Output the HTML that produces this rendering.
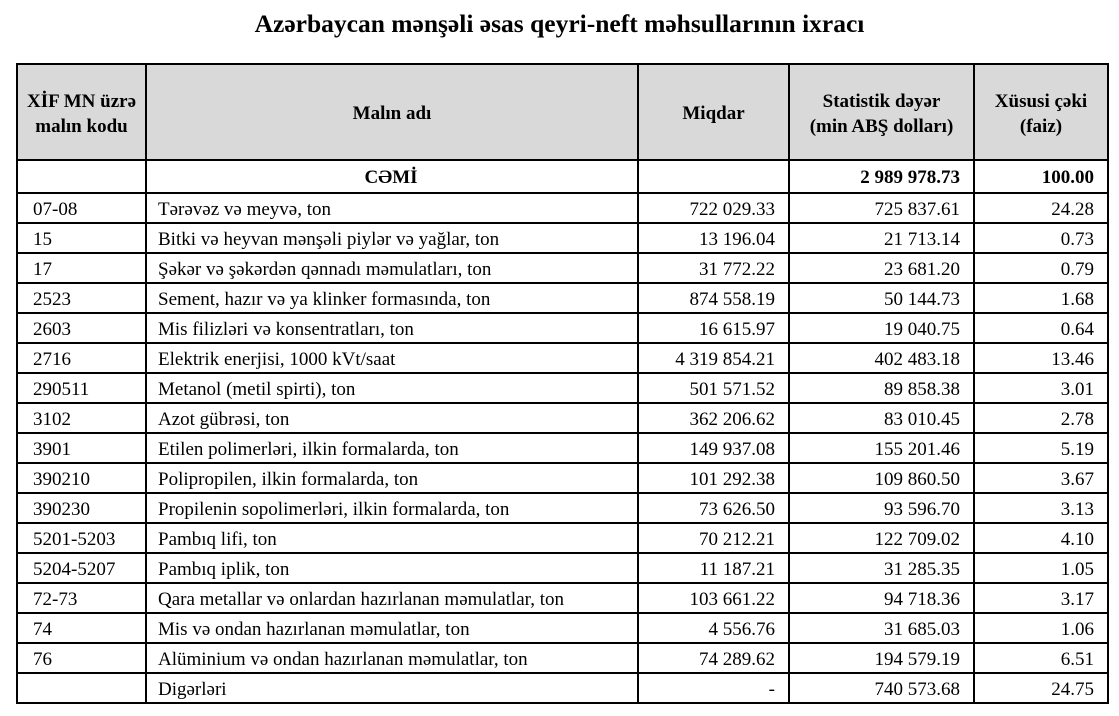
<!DOCTYPE html>
<html><head><meta charset="utf-8"><style>
body{margin:0;width:1119px;height:716px;background:#fff;font-family:"Liberation Serif",serif;color:#000;position:relative;overflow:hidden}
h1{position:absolute;top:9px;left:0;width:1119px;text-align:center;margin:0;font-size:25.5px;font-weight:bold}
table{position:absolute;left:16px;top:63px;border-collapse:collapse;table-layout:fixed;font-size:19px}
td,th{border:2px solid #000;padding:3px 13px 0 11px;white-space:nowrap;overflow:hidden}
td:first-child{padding-left:15px}
th{background:#d9d9d9;height:91px;font-weight:bold;text-align:center;line-height:25px;padding:3px 0 0 0}
tr.r td{height:25px}
.n{text-align:right}
.b{font-weight:bold}
</style></head><body>
<h1>Azərbaycan mənşəli əsas qeyri-neft məhsullarının ixracı</h1>
<table>
<colgroup><col style="width:129px"><col style="width:492px"><col style="width:151px"><col style="width:185px"><col style="width:134px"></colgroup>
<tr><th>XİF MN üzrə<br>malın kodu</th><th>Malın adı</th><th>Miqdar</th><th>Statistik dəyər<br>(min ABŞ dolları)</th><th>Xüsusi çəki<br>(faiz)</th></tr>
<tr class="r"><td style="height:28px"></td><td class="b" style="text-align:center">CƏMİ</td><td></td><td class="n b">2 989 978.73</td><td class="n b">100.00</td></tr>
<tr class="r"><td>07-08</td><td>Tərəvəz və meyvə, ton</td><td class="n">722 029.33</td><td class="n">725 837.61</td><td class="n">24.28</td></tr>
<tr class="r"><td>15</td><td>Bitki və heyvan mənşəli piylər və yağlar, ton</td><td class="n">13 196.04</td><td class="n">21 713.14</td><td class="n">0.73</td></tr>
<tr class="r"><td>17</td><td>Şəkər və şəkərdən qənnadı məmulatları, ton</td><td class="n">31 772.22</td><td class="n">23 681.20</td><td class="n">0.79</td></tr>
<tr class="r"><td>2523</td><td>Sement, hazır və ya klinker formasında, ton</td><td class="n">874 558.19</td><td class="n">50 144.73</td><td class="n">1.68</td></tr>
<tr class="r"><td>2603</td><td>Mis filizləri və konsentratları, ton</td><td class="n">16 615.97</td><td class="n">19 040.75</td><td class="n">0.64</td></tr>
<tr class="r"><td>2716</td><td>Elektrik enerjisi, 1000 kVt/saat</td><td class="n">4 319 854.21</td><td class="n">402 483.18</td><td class="n">13.46</td></tr>
<tr class="r"><td>290511</td><td>Metanol (metil spirti), ton</td><td class="n">501 571.52</td><td class="n">89 858.38</td><td class="n">3.01</td></tr>
<tr class="r"><td>3102</td><td>Azot gübrəsi, ton</td><td class="n">362 206.62</td><td class="n">83 010.45</td><td class="n">2.78</td></tr>
<tr class="r"><td>3901</td><td>Etilen polimerləri, ilkin formalarda, ton</td><td class="n">149 937.08</td><td class="n">155 201.46</td><td class="n">5.19</td></tr>
<tr class="r"><td>390210</td><td>Polipropilen, ilkin formalarda, ton</td><td class="n">101 292.38</td><td class="n">109 860.50</td><td class="n">3.67</td></tr>
<tr class="r"><td>390230</td><td>Propilenin sopolimerləri, ilkin formalarda, ton</td><td class="n">73 626.50</td><td class="n">93 596.70</td><td class="n">3.13</td></tr>
<tr class="r"><td>5201-5203</td><td>Pambıq lifi, ton</td><td class="n">70 212.21</td><td class="n">122 709.02</td><td class="n">4.10</td></tr>
<tr class="r"><td>5204-5207</td><td>Pambıq iplik, ton</td><td class="n">11 187.21</td><td class="n">31 285.35</td><td class="n">1.05</td></tr>
<tr class="r"><td>72-73</td><td>Qara metallar və onlardan hazırlanan məmulatlar, ton</td><td class="n">103 661.22</td><td class="n">94 718.36</td><td class="n">3.17</td></tr>
<tr class="r"><td>74</td><td>Mis və ondan hazırlanan məmulatlar, ton</td><td class="n">4 556.76</td><td class="n">31 685.03</td><td class="n">1.06</td></tr>
<tr class="r"><td>76</td><td>Alüminium və ondan hazırlanan məmulatlar, ton</td><td class="n">74 289.62</td><td class="n">194 579.19</td><td class="n">6.51</td></tr>
<tr class="r"><td></td><td>Digərləri</td><td class="n">-</td><td class="n">740 573.68</td><td class="n">24.75</td></tr>
</table>
</body></html>
